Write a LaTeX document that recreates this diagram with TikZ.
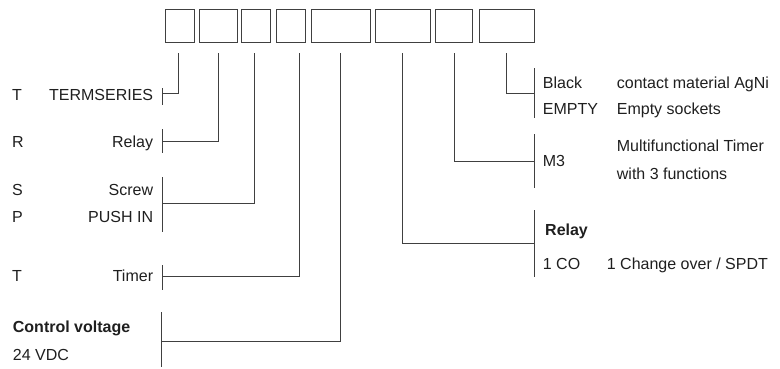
\documentclass[tikz,border=0pt]{standalone}
\usepackage{fontspec}
\setmainfont{Liberation Sans}
\begin{document}
\begin{tikzpicture}[x=1pt,y=-1pt,
  codebox/.style={draw=black!75, line width=1.2pt, minimum height=33pt, inner sep=0pt},
  lead/.style={draw=black!75, line width=1.2pt},
  lbl/.style={inner sep=0pt, font=\fontsize{16}{19}\selectfont, text=black!88},
  lblb/.style={lbl, font=\fontsize{16}{19}\selectfont\bfseries}]
\useasboundingbox (0,0) rectangle (780,368);
% code boxes
\node[codebox, minimum width=29pt] (b1) at (180,26) {};
\node[codebox, minimum width=38pt] (b2) at (218.5,26) {};
\node[codebox, minimum width=29pt] (b3) at (256,26) {};
\node[codebox, minimum width=29pt] (b4) at (291,26) {};
\node[codebox, minimum width=59pt] (b5) at (341,26) {};
\node[codebox, minimum width=55pt] (b6) at (403,26) {};
\node[codebox, minimum width=37pt] (b7) at (454,26) {};
\node[codebox, minimum width=55pt] (b8) at (507,26) {};
% tops of leader lines
\coordinate (t1) at (178.5,53);
\coordinate (t2) at (218.5,53);
\coordinate (t3) at (254.5,53);
\coordinate (t4) at (299.5,53);
\coordinate (t5) at (340.5,53);
\coordinate (t6) at (402.5,53);
\coordinate (t7) at (454.5,53);
\coordinate (t8) at (506.5,53);
% left brackets
\coordinate (l1a) at (162.5,88);   \coordinate (l1b) at (162.5,105);   \coordinate (l1) at (162.5,93.5);
\coordinate (l2a) at (162.5,129); \coordinate (l2b) at (162.5,153); \coordinate (l2) at (162.5,141.5);
\coordinate (l3a) at (162.5,177); \coordinate (l3b) at (162.5,232); \coordinate (l3) at (162.5,203.5);
\coordinate (l4a) at (162.5,265);   \coordinate (l4b) at (162.5,290);   \coordinate (l4) at (162.5,276.5);
\coordinate (l5a) at (161.5,312); \coordinate (l5b) at (161.5,367);   \coordinate (l5) at (161.5,341.5);
% right brackets
\coordinate (r8a) at (534.5,68);  \coordinate (r8b) at (534.5,118); \coordinate (r8) at (534.5,93.5);
\coordinate (r7a) at (534.5,134);   \coordinate (r7b) at (534.5,188); \coordinate (r7) at (534.5,161.5);
\coordinate (r6a) at (534.5,210);   \coordinate (r6b) at (534.5,277); \coordinate (r6) at (534.5,243.5);
\foreach \b in {l1,l2,l3,l4,l5,r8,r7,r6}{\draw[lead] (\b a) -- (\b b);}
% connectors
\draw[lead] (t1) |- (l1);
\draw[lead] (t2) |- (l2);
\draw[lead] (t3) |- (l3);
\draw[lead] (t4) |- (l4);
\draw[lead] (t5) |- (l5);
\draw[lead] (t6) |- (r6);
\draw[lead] (t7) |- (r7);
\draw[lead] (t8) |- (r8);
% left texts
\node[lbl, anchor=base west] (k1) at (12,100.7) {T};
\node[lbl, anchor=base east] (d1) at (153.3,100.7) {TERMSERIES};
\node[lbl, anchor=base west] (k2) at (12,147.3) {R};
\node[lbl, anchor=base east] (d2) at (153.3,147.3) {Relay};
\node[lbl, anchor=base west] (k3) at (12,195.7) {S};
\node[lbl, anchor=base east] (d3) at (153.3,195.7) {Screw};
\node[lbl, anchor=base west] (k3p) at (12,222.3) {P};
\node[lbl, anchor=base east] (d3p) at (153.3,222.3) {PUSH IN};
\node[lbl, anchor=base west] (k4) at (12,281.5) {T};
\node[lbl, anchor=base east] (d4) at (153.3,281.5) {Timer};
\node[lblb, anchor=base west] (h5) at (12.7,332.7) {Control voltage};
\node[lbl, anchor=base west] (k5) at (12.7,360) {24 VDC};
% right texts
\node[lbl, anchor=base west] (k8) at (542.7,88.3) {Black};
\node[lbl, anchor=base west] (d8) at (616.7,88.3) {contact material AgNi};
\node[lbl, anchor=base west] (k8e) at (542.7,114.3) {EMPTY};
\node[lbl, anchor=base west] (d8e) at (616.7,114.3) {Empty sockets};
\node[lbl, anchor=base west] (k7) at (542.7,166.7) {M3};
\node[lbl, anchor=base west] (d7) at (616.7,151.7) {Multifunctional Timer};
\node[lbl, anchor=base west] (d7b) at (616.7,179.5) {with 3 functions};
\node[lblb, anchor=base west] (h6) at (545,235) {Relay};
\node[lbl, anchor=base west] (k6) at (542.7,269.3) {1 CO};
\node[lbl, anchor=base west] (d6) at (606.7,269.3) {1 Change over / SPDT};
\end{tikzpicture}
\end{document}
